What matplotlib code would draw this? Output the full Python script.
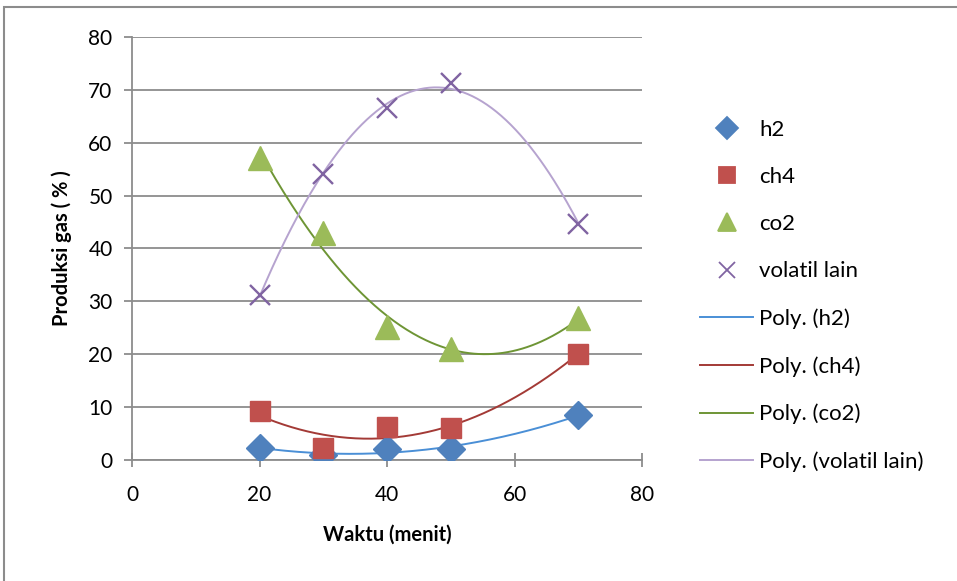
import numpy as np
import matplotlib.pyplot as plt
from matplotlib.lines import Line2D
from matplotlib.patches import Rectangle

plt.rcParams['font.family'] = ['Lato', 'DejaVu Sans']

# Waktu (menit)
waktu = [20, 30, 40, 50, 70]

# Produksi gas (%)
h2 = [2.3, 1.0, 2.1, 2.0, 8.5]
ch4 = [9.3, 2.3, 6.3, 6.0, 20.0]
co2 = [57.2, 42.9, 25.2, 20.9, 26.8]
volatil = [31.2, 54.0, 66.5, 71.3, 44.6]

series = [
    ('h2', h2, 'D', '#4F81BD', '#4A8FD6', 14),
    ('ch4', ch4, 's', '#C0504D', '#A33A36', 15),
    ('co2', co2, '^', '#9BBB59', '#6E9535', 17),
    ('volatil lain', volatil, 'x', '#8064A2', '#B6A3CF', 15),
]

fig = plt.figure(figsize=(9.57, 5.81), dpi=100)
ax = fig.add_axes([132 / 957, 1 - 460 / 581, 510 / 957, 423 / 581])

# chart area frame
fig.patches.append(Rectangle((4 / 957, -0.1), 1.2, 1 - 7 / 581 + 0.1,
                             transform=fig.transFigure, fill=False,
                             edgecolor='#8c8c8c', linewidth=1.5))

xs = np.linspace(min(waktu), max(waktu), 200)
marker_handles = []
line_handles = []
for name, vals, mk, mcol, lcol, ms in series:
    # second-order polynomial trendline
    coef = np.polyfit(waktu, vals, 2)
    ax.plot(xs, np.polyval(coef, xs), color=lcol, lw=1.4, zorder=2)
    if mk == 'x':
        ax.plot(waktu, vals, ls='none', marker=mk, ms=ms, mew=1.7,
                color=mcol, zorder=3)
    else:
        ax.plot(waktu, vals, ls='none', marker=mk, ms=ms, color=mcol,
                mec=mcol, zorder=3)
    marker_handles.append(Line2D([], [], ls='none', marker=mk,
                                 ms=ms * 0.8 if mk != 'x' else 12,
                                 mew=1.3, color=mcol, label=name))
    line_handles.append(Line2D([], [], color=lcol, lw=1.4,
                               label=f'Poly. ({name})'))

ax.set_xlim(0, 80)
ax.set_ylim(0, 80)
ax.set_xticks(range(0, 81, 20))
ax.set_yticks(range(0, 81, 10))
ax.grid(axis='y', color='#8c8c8c', lw=1.3)
ax.set_axisbelow(True)
for side in ('top', 'right'):
    ax.spines[side].set_visible(False)
for side in ('left', 'bottom'):
    ax.spines[side].set_color('#8c8c8c')
    ax.spines[side].set_linewidth(1.3)
ax.tick_params(axis='x', direction='inout', length=10, color='#8c8c8c',
               width=1.3, labelsize=15, pad=13)
ax.tick_params(axis='y', direction='out', length=6, color='#8c8c8c',
               width=1.3, labelsize=15, pad=8)

ax.set_xlabel('Waktu (menit)', fontsize=14.5, fontweight='bold', labelpad=14)
ax.set_ylabel('Produksi gas ( % )', fontsize=14.5, fontweight='bold',
              labelpad=12)

fig.legend(handles=marker_handles + line_handles, loc='upper left',
           bbox_to_anchor=(680 / 957, 1 - 100 / 581), frameon=False,
           fontsize=16, labelspacing=1.22, handlelength=2.4,
           handletextpad=0.25)

fig.savefig('out.png', dpi=100)
